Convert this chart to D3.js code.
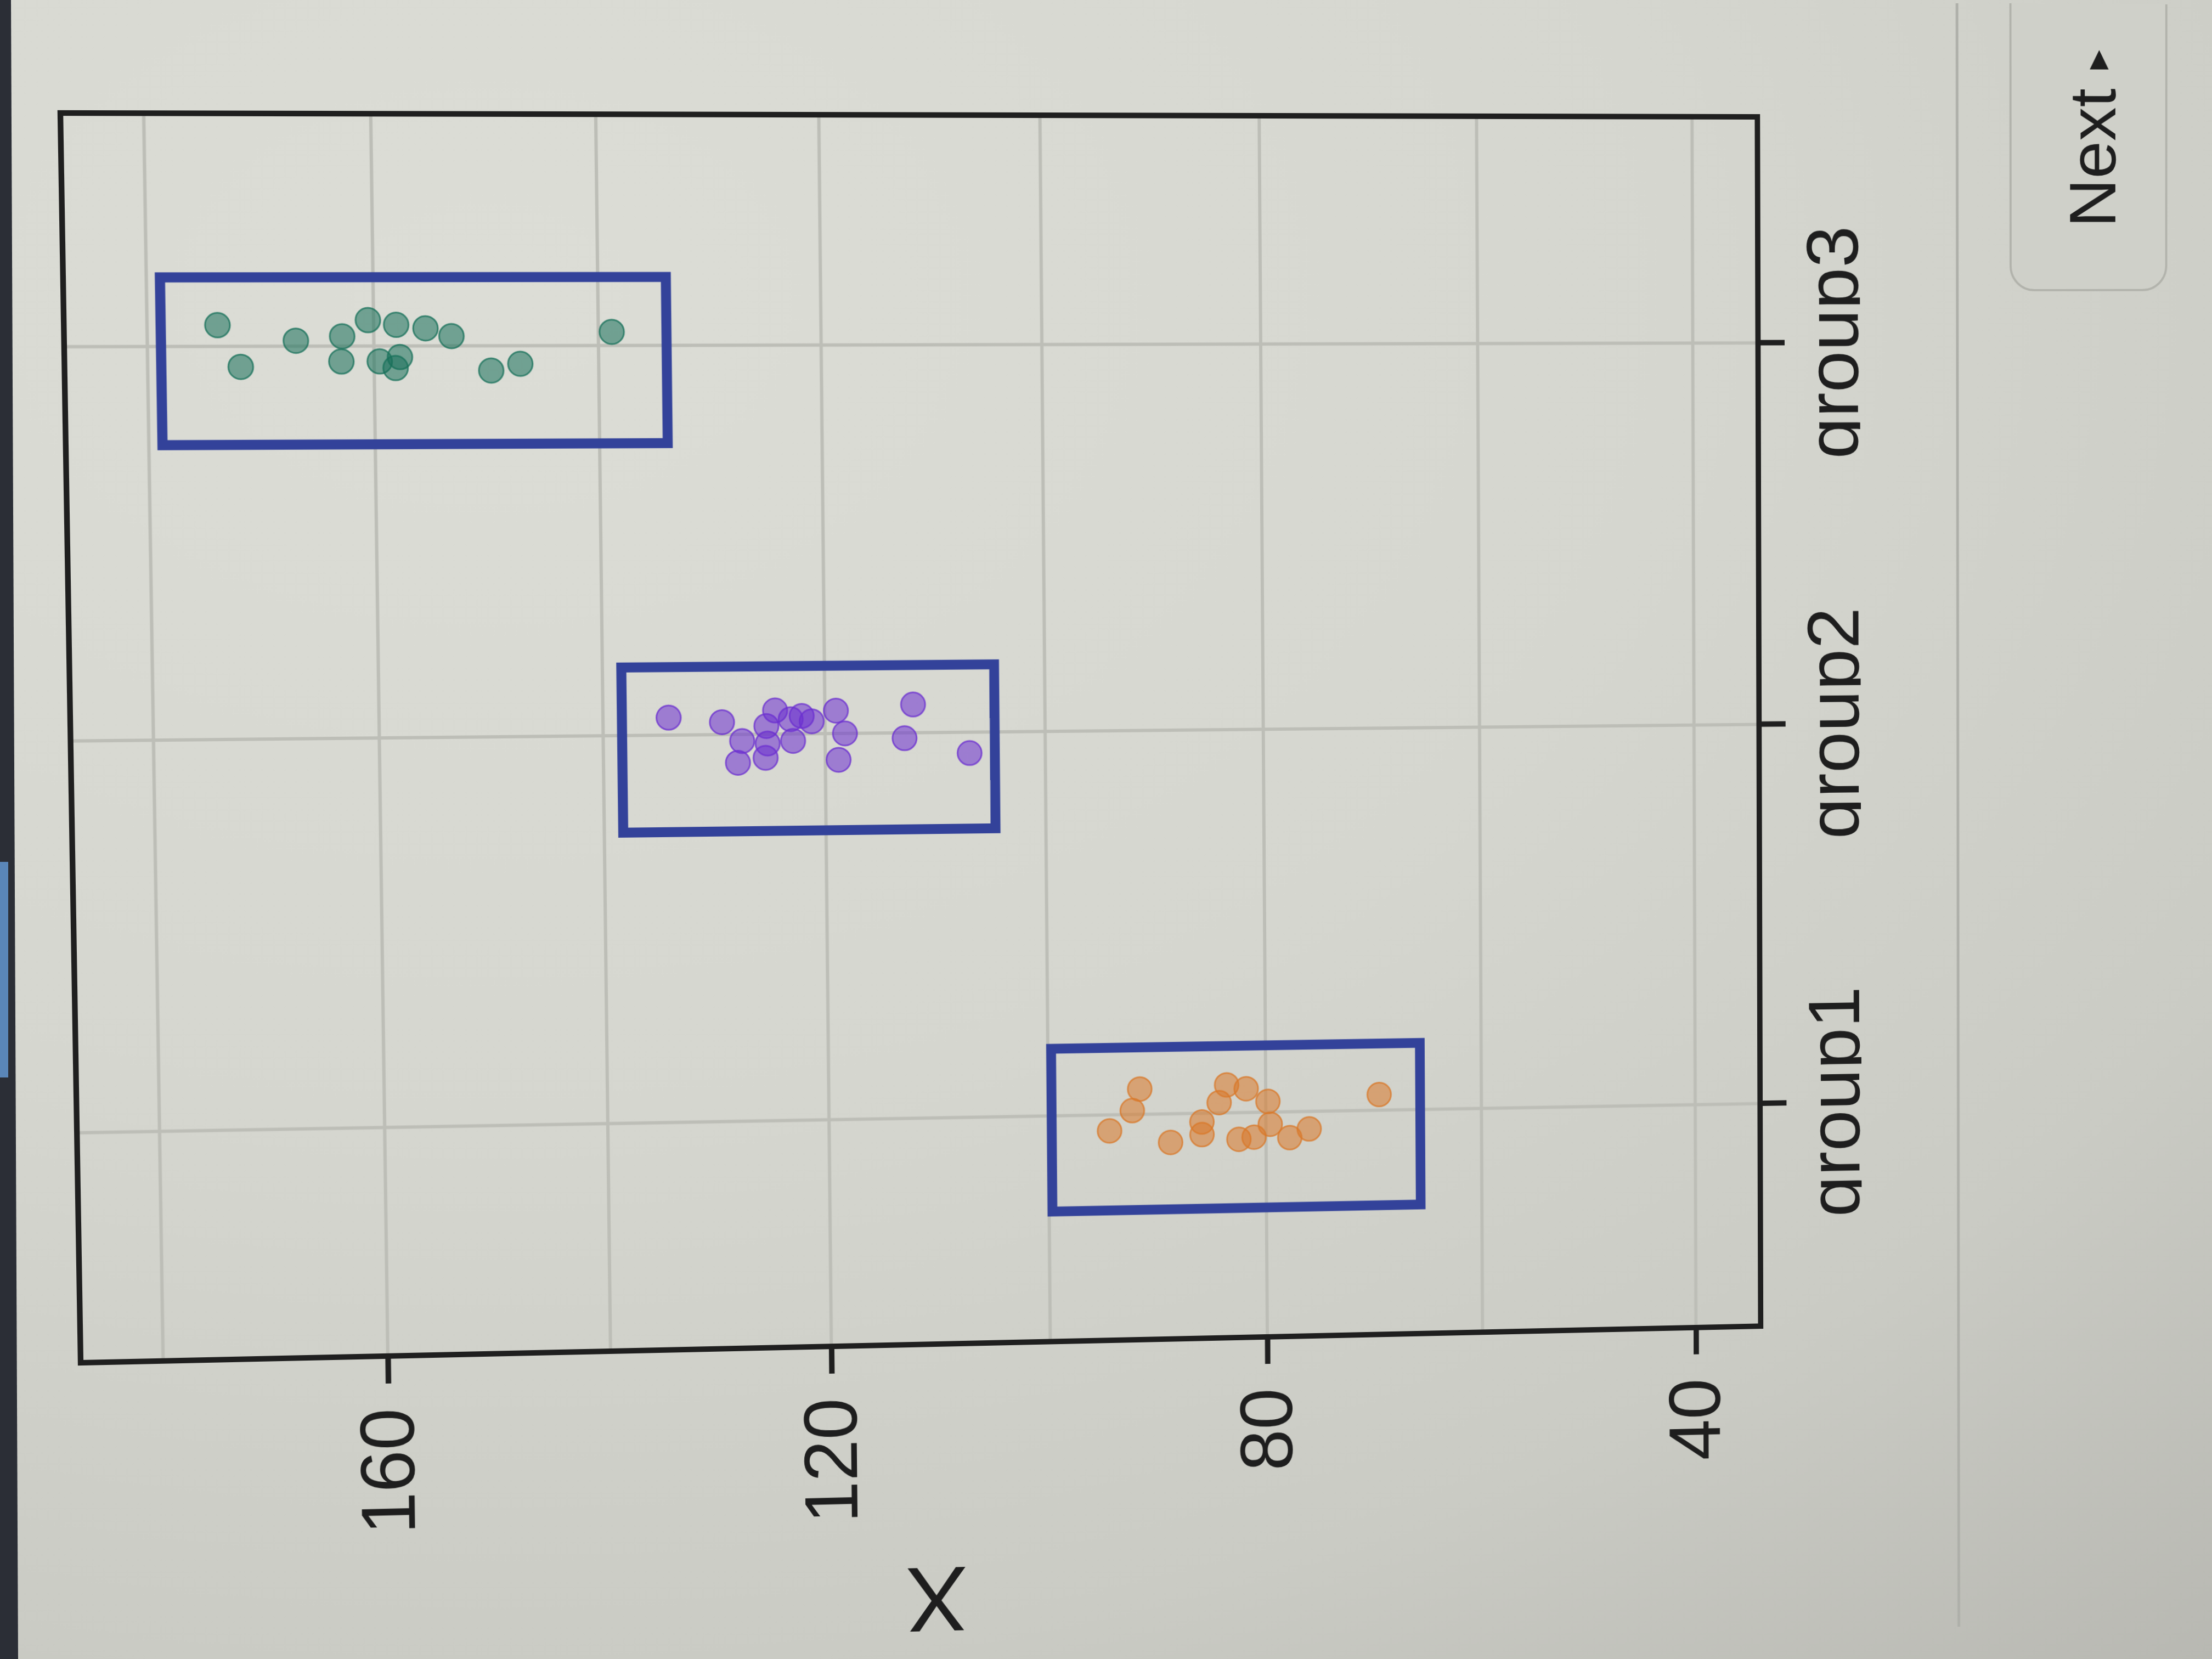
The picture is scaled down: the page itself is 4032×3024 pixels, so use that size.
<!DOCTYPE html>
<html lang="en">
  <head>
    <meta charset="utf-8">
    <title>Strip plot X by group</title>
    <script src="https://cdnjs.cloudflare.com/ajax/libs/d3/7.8.5/d3.min.js"></script>
    <style>
      html, body {
        margin: 0px;
        padding: 0px;
        width: 4032px;
        height: 3024px;
        overflow: hidden;
      }
      body {
        position: relative;
        background: radial-gradient(ellipse 120% 110% at 22% 18%, #dcddd6 0%, #d5d6cf 45%, #cacbc4 75%, #b7b7b1 100%);
        font-family: "Liberation Sans", Arial, sans-serif;
      }
      svg {
        position: absolute;
        left: 0px;
        top: 0px;
      }
      #screen {
        transform-origin: 0 0;
      }
      .grid line {
        stroke: #bdbeb7;
        stroke-width: 6;
      }
      .axis text {
        font-family: "Liberation Sans", Arial, sans-serif;
        font-size: 138px;
        fill: #1e1e1e;
      }
      .axis line {
        stroke: #1f1f1f;
        stroke-width: 10;
      }
      .axis path {
        display: none;
      }
    </style>
  </head>
  <body>
    <svg id="screen" width="4032" height="3024"></svg>
    <svg id="bezel" width="4032" height="3024"></svg>

    <script>
      // values
      var groups = ["group1", "group2", "group3"];
      var colors = ["#d8782a", "#6b2fcf", "#17705a"];

      var group1Values = [91.6, 92.3, 94.4, 88.8, 85.9, 85.9, 83.6, 84.3, 81.8, 79.8, 79.6, 82.5, 81.1, 77.8, 76.0, 69.5];
      var group1Jitter = [0.066, 0.010, -0.042, -0.075, -0.023, -0.056, 0.073, 0.027, 0.062, 0.028, -0.032, -0.070, -0.065, -0.068, -0.046, 0.041];

      var group2Values = [134.1, 129.3, 127.5, 127.9, 125.3, 124.5, 125.2, 125.4, 123.1, 122.1, 121.2, 122.9, 119.0, 118.2, 118.8, 112.0, 112.8, 106.9];
      var group2Jitter = [0.045, 0.032, -0.017, -0.073, 0.021, 0.061, -0.024, -0.061, 0.038, 0.046, 0.032, -0.018, 0.059, 0.0, -0.068, 0.073, -0.014, -0.054];

      var group3Values = [173.8, 171.8, 166.9, 162.8, 162.9, 160.5, 158.0, 159.5, 157.7, 158.1, 155.4, 153.1, 149.6, 147.0, 138.8];
      var group3Jitter = [0.054, -0.052, 0.014, 0.025, -0.039, 0.066, 0.054, -0.039, -0.028, -0.056, 0.045, 0.025, -0.063, -0.046, 0.035];

      // highlight boxes drawn round each group (X range)
      var boxLow = [65.7, 104.6, 133.9];
      var boxHigh = [99.7, 138.3, 178.8];
      var boxBand = [-0.25, 0.175];

      var tickValues = [40, 80, 120, 160];
      var gridValues = [40, 60, 80, 100, 120, 140, 160, 180];
      var yDomain = [33.9, 187.3];

      var values = [group1Values, group2Values, group3Values];
      var jitters = [group1Jitter, group2Jitter, group3Jitter];

      var points = [];
      groups.forEach(function(g, i) {
        for (var k = 0; k < values[i].length; k++) {
          points.push({group: g, gi: i, value: values[i][k], jitter: jitters[i][k]});
        }
      });

      // the screen was photographed turned on its side, so the chart is
      // drawn upright and then turned -90 degrees
      var L = 128, T = 210, R = 3206, B = 2450;
      var W = B - T, H = R - L;

      var svg = d3.select("#screen");

      var x = d3.scalePoint().domain(groups).range([0, W]).padding(0.59);
      var y = d3.scaleLinear().domain(yDomain).range([H, 0]);
      var step = x.step();

      var chart = svg.append("g")
        .attr("transform", "translate(" + L + "," + B + ") rotate(-90)");

      var grid = chart.append("g").attr("class", "grid");
      grid.selectAll(".gy")
        .data(gridValues)
        .enter().append("line")
          .attr("x1", 0).attr("x2", W)
          .attr("y1", function(d) { return y(d); })
          .attr("y2", function(d) { return y(d); });
      grid.selectAll(".gx")
        .data(groups)
        .enter().append("line")
          .attr("y1", 0).attr("y2", H)
          .attr("x1", function(d) { return x(d); })
          .attr("x2", function(d) { return x(d); });

      chart.append("g")
        .selectAll("circle")
        .data(points)
        .enter().append("circle")
          .attr("cx", function(d) { return x(d.group) + d.jitter * step; })
          .attr("cy", function(d) { return y(d.value); })
          .attr("r", 22)
          .style("fill", function(d) { return colors[d.gi]; })
          .style("fill-opacity", 0.55)
          .style("stroke", function(d) { return colors[d.gi]; })
          .style("stroke-opacity", 0.75)
          .style("stroke-width", 3);

      chart.append("g")
        .selectAll("rect")
        .data(groups)
        .enter().append("rect")
          .attr("x", function(d) { return x(d) + boxBand[0] * step; })
          .attr("width", (boxBand[1] - boxBand[0]) * step)
          .attr("y", function(d, i) { return y(boxHigh[i]); })
          .attr("height", function(d, i) { return y(boxLow[i]) - y(boxHigh[i]); })
          .style("fill", "none")
          .style("stroke", "#33429a")
          .style("stroke-width", 18);

      chart.append("rect")
        .attr("width", W)
        .attr("height", H)
        .style("fill", "none")
        .style("stroke", "#1f1f1f")
        .style("stroke-width", 10);

      chart.append("g")
        .attr("class", "axis")
        .call(d3.axisLeft(y).tickValues(tickValues).tickSize(50).tickPadding(45));

      chart.append("clipPath")
        .attr("id", "label-clip")
        .append("rect")
          .attr("x", -600).attr("y", -100)
          .attr("width", W + 1200).attr("height", 292);

      chart.append("g")
        .attr("class", "axis")
        .attr("transform", "translate(0," + H + ")")
        .attr("clip-path", "url(#label-clip)")
        .call(d3.axisBottom(x).tickSize(50).tickPadding(40));

      chart.append("text")
        .attr("transform", "translate(-412," + (H / 2) + ") rotate(-90)")
        .attr("text-anchor", "middle")
        .style("font-family", "'Liberation Sans', Arial, sans-serif")
        .style("font-size", "170px")
        .style("fill", "#1e1e1e")
        .text("X");

      // page furniture: panel divider and the Next button
      svg.append("line")
        .attr("x1", 3582).attr("x2", 3582)
        .attr("y1", -200).attr("y2", 3300)
        .style("stroke", "#aeafa9")
        .style("stroke-width", 5);

      svg.append("rect")
        .attr("x", 3683).attr("y", -60)
        .attr("width", 296).attr("height", 589)
        .attr("rx", 45)
        .style("fill", "#cfd0c9")
        .style("stroke", "#b2b3ac")
        .style("stroke-width", 4);

      var next = svg.append("text")
        .attr("transform", "translate(3882,413) rotate(-90)")
        .style("font-family", "'Liberation Sans', Arial, sans-serif")
        .style("font-size", "125px")
        .style("fill", "#1e1e1e");
      next.append("tspan").text("Next ");
      next.append("tspan")
        .attr("dy", -12)
        .style("font-size", "72px")
        .text("\u25B8");

      // perspective of the photo: map the drawn frame onto the photographed one
      function homography(src, dst) {
        var A = [], b = [];
        for (var i = 0; i < 4; i++) {
          var sx = src[i][0], sy = src[i][1], u = dst[i][0], v = dst[i][1];
          A.push([sx, sy, 1, 0, 0, 0, -sx * u, -sy * u]); b.push(u);
          A.push([0, 0, 0, sx, sy, 1, -sx * v, -sy * v]); b.push(v);
        }
        for (var c = 0; c < 8; c++) {
          var p = c;
          for (var r = c + 1; r < 8; r++) if (Math.abs(A[r][c]) > Math.abs(A[p][c])) p = r;
          var tmp = A[c]; A[c] = A[p]; A[p] = tmp;
          var tb = b[c]; b[c] = b[p]; b[p] = tb;
          for (var r2 = 0; r2 < 8; r2++) {
            if (r2 === c) continue;
            var f = A[r2][c] / A[c][c];
            for (var k = c; k < 8; k++) A[r2][k] -= f * A[c][k];
            b[r2] -= f * b[c];
          }
        }
        return b.map(function(v, i) { return v / A[i][i]; });
      }

      var h = homography(
        [[L, T], [R, T], [R, B], [L, B]],
        [[110, 206], [3203, 213], [3209, 2417], [147, 2484]]
      );
      svg.style("transform", "matrix3d(" + [h[0], h[3], 0, h[6], h[1], h[4], 0, h[7], 0, 0, 1, 0, h[2], h[5], 0, 1].join(",") + ")");

      // monitor edge at the left of the photo
      var bezel = d3.select("#bezel");
      bezel.append("polygon")
        .attr("points", "0,0 20,0 33,3024 0,3024")
        .style("fill", "#2b2e36");
      bezel.append("rect")
        .attr("x", 0).attr("y", 1571)
        .attr("width", 15).attr("height", 393)
        .style("fill", "#5a86b8");
    </script>
  </body>
</html>
